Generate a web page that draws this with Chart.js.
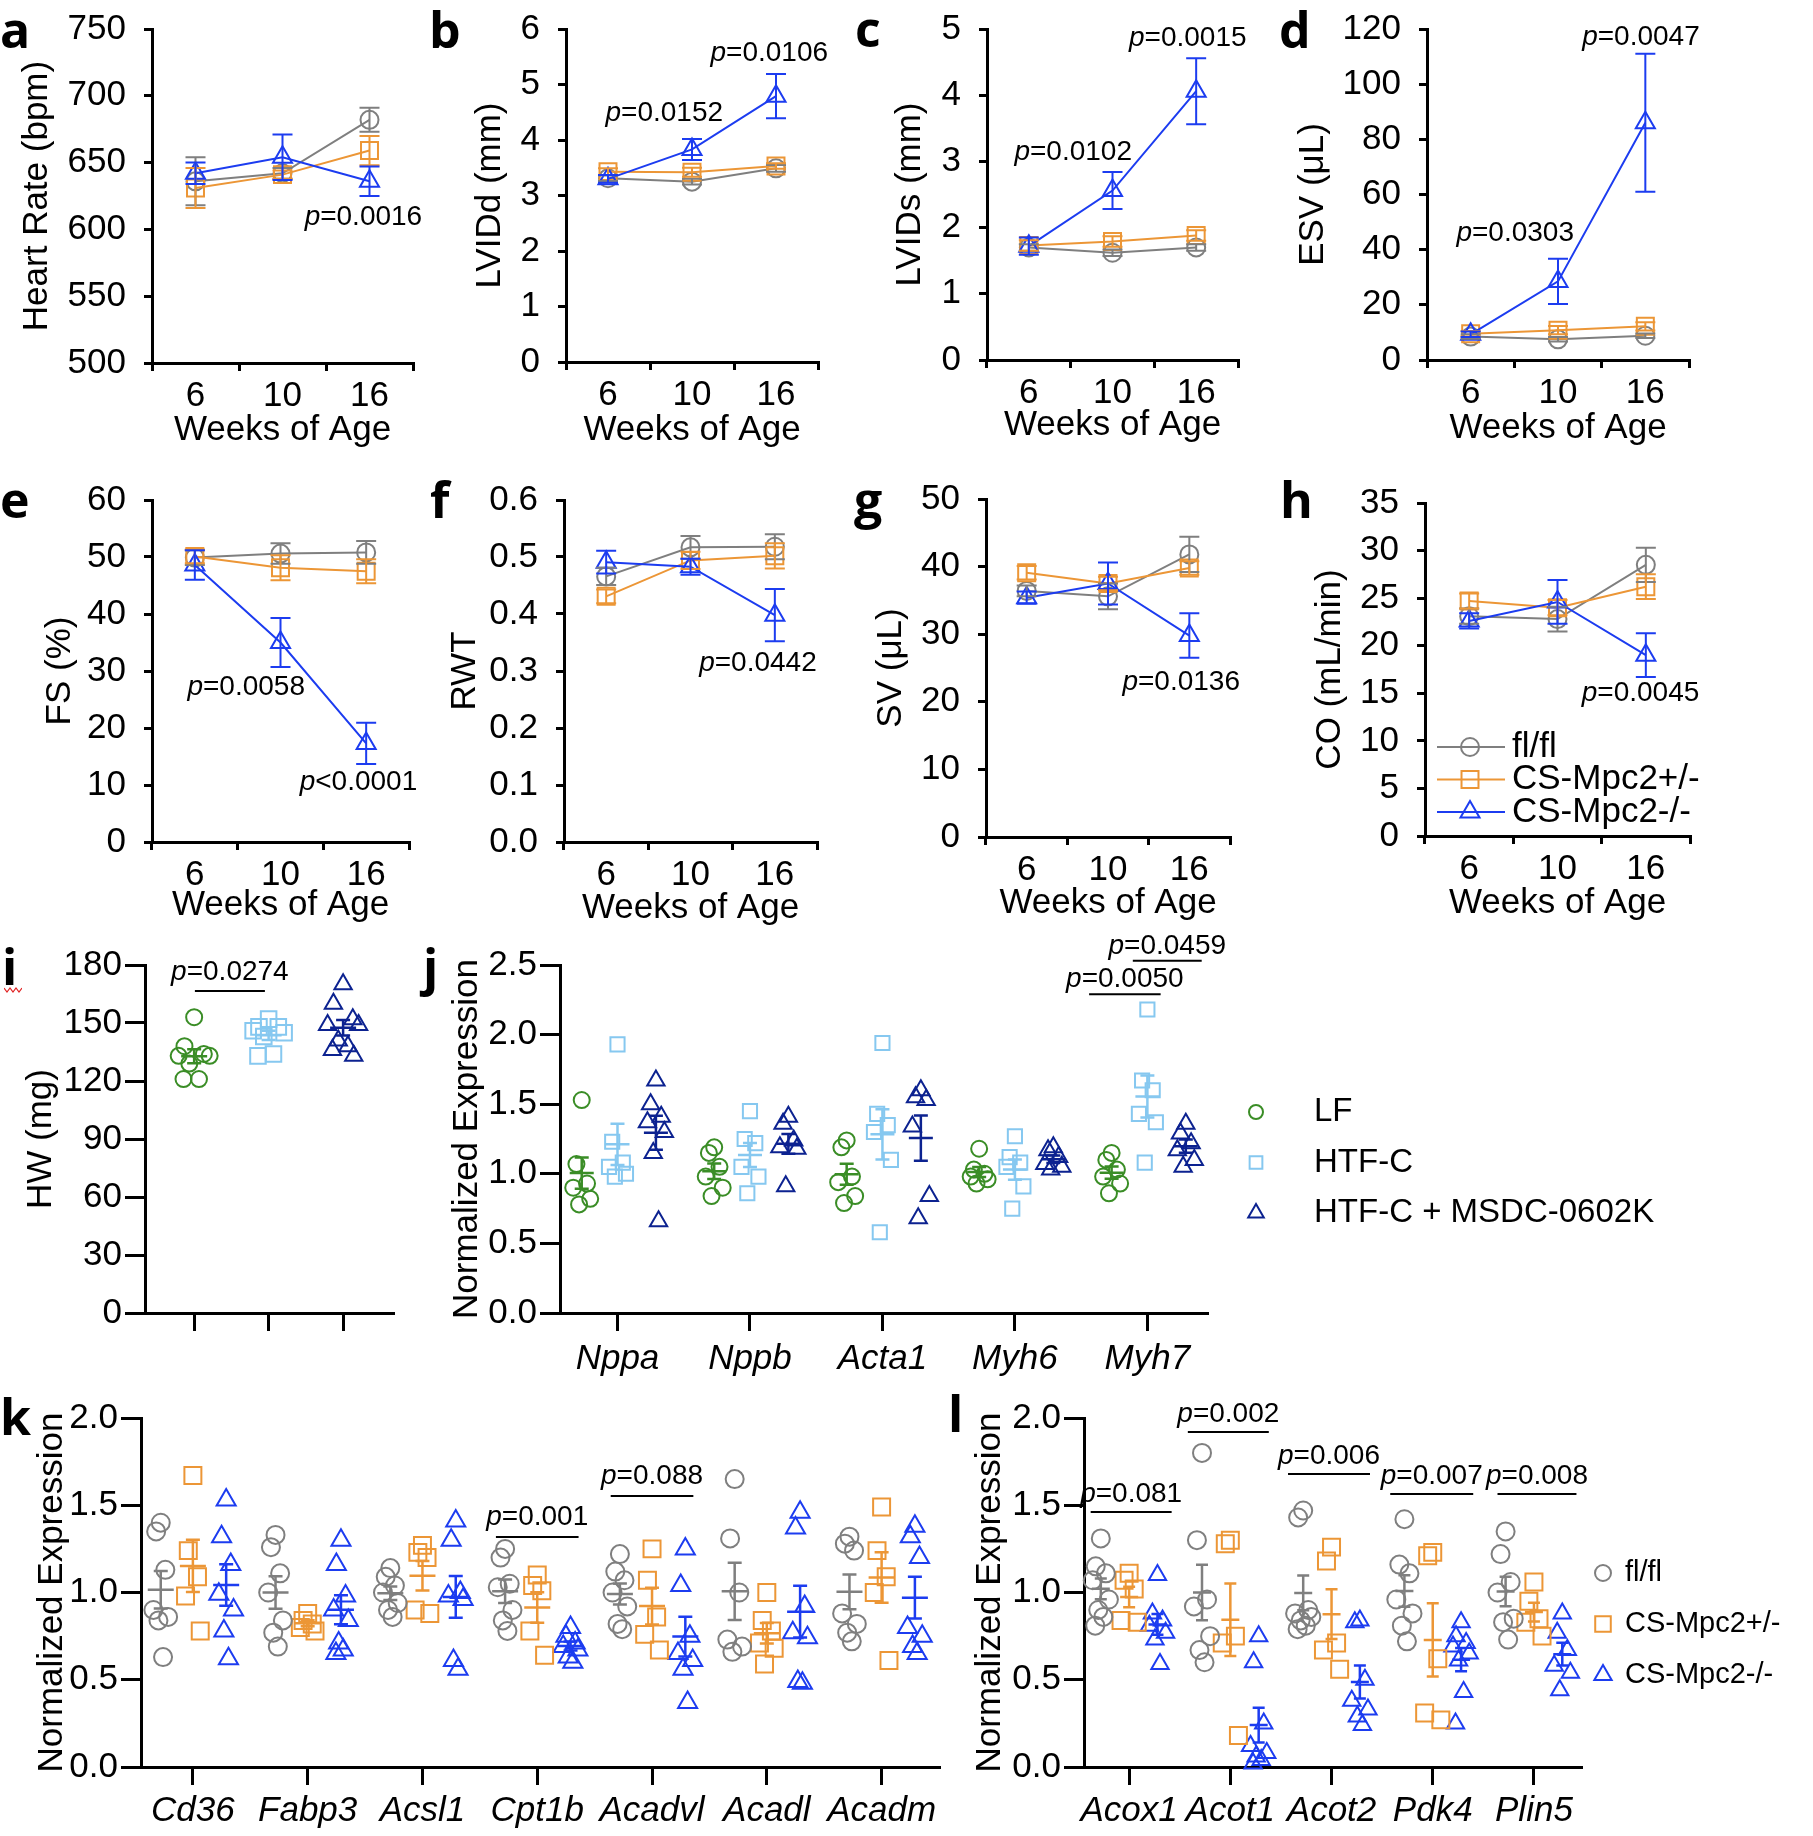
<!DOCTYPE html>
<html>
<head>
<meta charset="utf-8">
<title>Mpc2 echocardiography and gene expression</title>
<script src="https://cdn.jsdelivr.net/npm/chart.js@4.4.1/dist/chart.umd.min.js"></script>
<style>
  body { margin: 0; background: #fff; }
  #page { position: relative; width: 1813px; height: 1836px; overflow: hidden; background: #fff; }
  #page canvas { position: absolute; }
  .tag { position: absolute; font-family: "Open Sans", "DejaVu Sans", sans-serif; font-weight: 700; font-size: 50px; line-height: 50px; color: #000; }
</style>
</head>
<body>
<div id="page">
  <div class="tag" style="left:0px;top:4px">a</div>
  <div class="tag" style="left:429px;top:4px">b</div>
  <div class="tag" style="left:855px;top:3px">c</div>
  <div class="tag" style="left:1279px;top:4px">d</div>
  <div class="tag" style="left:0px;top:474px">e</div>
  <div class="tag" style="left:430px;top:474px">f</div>
  <div class="tag" style="left:854px;top:474px">g</div>
  <div class="tag" style="left:1280px;top:474px">h</div>
  <div class="tag" style="left:2px;top:941px">i</div>
  <svg style="position:absolute;left:4px;top:986px" width="18" height="8"><polyline points="0,2 3,6 6,2 9,6 12,2 15,6 18,2" fill="none" stroke="#e02020" stroke-width="1.2"/></svg>
  <div class="tag" style="left:423px;top:941px">j</div>
  <div class="tag" style="left:0px;top:1391px">k</div>
  <div class="tag" style="left:948px;top:1388px">l</div>
</div>
<script>
// ---------- data ----------
var weeks = ['6', '10', '16'];
var groupsMpc = ['fl/fl', 'CS-Mpc2+/-', 'CS-Mpc2-/-'];

// a  heart rate (bpm), mean and SEM
var hrFlfl = [636, 642, 682], hrFlflErr = [18, 4, 9];
var hrHet = [631, 641, 659], hrHetErr = [15, 3, 11];
var hrKo = [642, 654, 636], hrKoErr = [8, 17, 11];
var hrTicks = [500, 550, 600, 650, 700, 750];

// b  LVIDd (mm)
var lviddFlfl = [3.31, 3.25, 3.49], lviddFlflErr = [0.05, 0.05, 0.06];
var lviddHet = [3.43, 3.42, 3.53], lviddHetErr = [0.06, 0.08, 0.05];
var lviddKo = [3.30, 3.83, 4.79], lviddKoErr = [0.07, 0.19, 0.4];
var lviddTicks = [0, 1, 2, 3, 4, 5, 6];

// c  LVIDs (mm)
var lvidsFlfl = [1.70, 1.62, 1.70], lvidsFlflErr = [0.05, 0.05, 0.05];
var lvidsHet = [1.73, 1.79, 1.88], lvidsHetErr = [0.08, 0.08, 0.08];
var lvidsKo = [1.72, 2.56, 4.06], lvidsKoErr = [0.13, 0.28, 0.5];
var lvidsTicks = [0, 1, 2, 3, 4, 5];

// d  ESV (uL)
var esvFlfl = [8.5, 7.5, 8.8], esvFlflErr = [0.8, 0.8, 0.8];
var esvHet = [9.5, 10.8, 12.2], esvHetErr = [1, 1.5, 1.5];
var esvKo = [9.3, 28.5, 86], esvKoErr = [1, 8.2, 25];
var esvTicks = [0, 20, 40, 60, 80, 100, 120];

// e  FS (%)
var fsFlfl = [49.9, 50.6, 50.8], fsFlflErr = [1.3, 1.8, 2];
var fsHet = [50.1, 48.1, 47.5], fsHetErr = [1.2, 2.2, 2.1];
var fsKo = [48.6, 35, 17.3], fsKoErr = [2.6, 4.3, 3.6];
var fsTicks = [0, 10, 20, 30, 40, 50, 60];

// f  RWT
var rwtFlfl = [0.466, 0.517, 0.518], rwtFlflErr = [0.015, 0.02, 0.022];
var rwtHet = [0.431, 0.494, 0.502], rwtHetErr = [0.012, 0.015, 0.022];
var rwtKo = [0.491, 0.483, 0.398], rwtKoErr = [0.02, 0.014, 0.046];
var rwtTicks = [0, 0.1, 0.2, 0.3, 0.4, 0.5, 0.6];

// g  SV (uL)
var svFlfl = [36.4, 35.6, 41.8], svFlflErr = [0.8, 1.9, 2.6];
var svHet = [39.1, 37.5, 39.8], svHetErr = [1.0, 1.0, 1.0];
var svKo = [35.4, 37.5, 29.8], svKoErr = [0.9, 3.1, 3.3];
var svTicks = [0, 10, 20, 30, 40, 50];

// h  CO (mL/min)
var coFlfl = [23.1, 22.8, 28.5], coFlflErr = [0.8, 1.3, 1.8];
var coHet = [24.7, 24.0, 26.2], coHetErr = [0.8, 0.8, 1.3];
var coKo = [22.6, 24.6, 19.0], coKoErr = [0.8, 2.3, 2.3];
var coTicks = [0, 5, 10, 15, 20, 25, 30, 35];

// i  heart weight (mg)
var dietGroups = ['LF', 'HTF-C', 'HTF-C + MSDC-0602K'];
var hwLF = [153, 138, 134, 133, 133, 129, 121, 121];
var hwHTFC = [152, 148, 148, 146, 145, 143, 134, 133];
var hwMSDC = [170, 160, 152, 149, 149, 141, 138, 136, 133];
var hwTicks = [0, 30, 60, 90, 120, 150, 180];

// j  hypertrophy genes
var jGenes = ['Nppa', 'Nppb', 'Acta1', 'Myh6', 'Myh7'];
var jLF = [
  [1.53, 1.07, 0.93, 0.90, 0.82, 0.78],
  [1.19, 1.15, 1.05, 0.98, 0.90, 0.84],
  [1.24, 1.19, 0.98, 0.94, 0.84, 0.79],
  [1.18, 1.03, 1.00, 0.98, 0.96, 0.93],
  [1.15, 1.10, 1.03, 0.98, 0.93, 0.86]];
var jHTFC = [
  [1.93, 1.23, 1.08, 1.05, 1.00, 0.98],
  [1.45, 1.25, 1.22, 1.05, 0.98, 0.86],
  [1.94, 1.43, 1.35, 1.30, 1.10, 0.58],
  [1.27, 1.12, 1.08, 1.05, 0.91, 0.75],
  [2.18, 1.67, 1.60, 1.43, 1.37, 1.08]];
var jMSDC = [
  [1.67, 1.50, 1.41, 1.37, 1.30, 1.15, 0.66],
  [1.41, 1.36, 1.24, 1.19, 1.18, 0.91],
  [1.60, 1.55, 1.53, 1.34, 0.84, 0.68],
  [1.19, 1.17, 1.12, 1.07, 1.05, 1.03],
  [1.36, 1.29, 1.22, 1.17, 1.10, 1.05]];
var jTicks = [0, 0.5, 1, 1.5, 2, 2.5];

// k  fatty acid uptake / oxidation genes
var kGenes = ['Cd36', 'Fabp3', 'Acsl1', 'Cpt1b', 'Acadvl', 'Acadl', 'Acadm'];
var kFlfl = [
  [1.40, 1.35, 1.13, 0.90, 0.86, 0.84, 0.63],
  [1.33, 1.26, 1.11, 1.00, 0.84, 0.77, 0.69],
  [1.14, 1.09, 1.04, 1.00, 0.94, 0.90, 0.86],
  [1.25, 1.20, 1.05, 1.03, 0.90, 0.84, 0.78],
  [1.22, 1.12, 1.07, 1.00, 0.92, 0.82, 0.79],
  [1.65, 1.31, 1.00, 0.73, 0.69, 0.66],
  [1.32, 1.28, 1.24, 0.88, 0.82, 0.77, 0.72]];
var kHet = [
  [1.67, 1.24, 1.09, 0.98, 0.78],
  [0.88, 0.84, 0.82, 0.80, 0.78],
  [1.27, 1.23, 1.20, 0.90, 0.88],
  [1.10, 1.04, 1.01, 0.78, 0.64],
  [1.25, 1.07, 0.86, 0.76, 0.67],
  [1.00, 0.84, 0.78, 0.71, 0.68, 0.59],
  [1.49, 1.24, 1.09, 1.00, 0.61]];
var kKo = [
  [1.53, 1.32, 1.16, 0.99, 0.90, 0.78, 0.62],
  [1.30, 1.16, 0.98, 0.90, 0.84, 0.71, 0.67, 0.65],
  [1.41, 1.30, 1.00, 0.98, 0.96, 0.61, 0.56],
  [0.80, 0.75, 0.71, 0.69, 0.67, 0.63, 0.60],
  [1.25, 1.04, 0.75, 0.65, 0.61, 0.56, 0.37],
  [1.46, 1.37, 0.92, 0.77, 0.74, 0.49, 0.48],
  [1.38, 1.32, 1.20, 0.80, 0.75, 0.69, 0.65]];
var exprTicks = [0, 0.5, 1, 1.5, 2];

// l  PPARa targets
var lGenes = ['Acox1', 'Acot1', 'Acot2', 'Pdk4', 'Plin5'];
var lFlfl = [
  [1.31, 1.15, 1.11, 1.07, 0.96, 0.90, 0.86, 0.81],
  [1.80, 1.30, 0.96, 0.92, 0.75, 0.67, 0.60],
  [1.47, 1.43, 0.90, 0.88, 0.86, 0.84, 0.81, 0.79],
  [1.42, 1.16, 1.11, 0.96, 0.88, 0.81, 0.72],
  [1.35, 1.22, 1.06, 1.00, 0.85, 0.83, 0.73]];
var lHet = [
  [1.11, 1.07, 1.02, 0.84, 0.83],
  [1.30, 1.28, 0.75, 0.71, 0.18],
  [1.26, 1.18, 0.71, 0.67, 0.56],
  [1.23, 1.21, 0.62, 0.31, 0.27],
  [1.06, 0.95, 0.85, 0.83, 0.75]];
var lKo = [
  [1.10, 0.88, 0.84, 0.81, 0.77, 0.73, 0.59],
  [0.75, 0.60, 0.25, 0.12, 0.08, 0.06, 0.04, 0.02],
  [0.84, 0.83, 0.50, 0.38, 0.33, 0.29, 0.24],
  [0.83, 0.75, 0.71, 0.69, 0.65, 0.61, 0.43, 0.25],
  [0.88, 0.77, 0.67, 0.58, 0.54, 0.44]];

// ---------- look ----------
var FAM = '"Liberation Sans", Arial, Helvetica, sans-serif';
var FS = 35, LH = FS * 1.2;
var GREY = '#7f7f7f', ORANGE = '#ec9636', BLUE = '#1c3cf0';
var GREEN = '#3a8d26', SKY = '#86c8f0', NAVY = '#0c2290';
var swarm = [0, -1, 1, -1.6, 1.6, -0.5, 0.5, -1.1, 1.1];

Chart.defaults.font.family = FAM;
Chart.defaults.color = '#000';
Chart.defaults.animation = false;
Chart.defaults.responsive = false;
Chart.defaults.events = [];
Chart.defaults.plugins.legend.display = false;
Chart.defaults.plugins.tooltip.enabled = false;

function addCanvas(left, top, width, height) {
  var c = document.createElement('canvas');
  c.width = Math.round(width);
  c.height = Math.round(height);
  c.style.left = left + 'px';
  c.style.top = top + 'px';
  document.getElementById('page').appendChild(c);
  return c;
}

function drawP(ctx, text, cx, cy, size) {
  ctx.save();
  ctx.textBaseline = 'middle';
  ctx.textAlign = 'left';
  ctx.fillStyle = '#000';
  ctx.font = 'italic ' + size + 'px ' + FAM;
  var w1 = ctx.measureText(text[0]).width;
  ctx.font = size + 'px ' + FAM;
  var w2 = ctx.measureText(text.slice(1)).width;
  var x0 = cx - (w1 + w2) / 2;
  ctx.font = 'italic ' + size + 'px ' + FAM;
  ctx.fillText(text[0], x0, cy);
  ctx.font = size + 'px ' + FAM;
  ctx.fillText(text.slice(1), x0 + w1, cy);
  ctx.restore();
}

// p-values: either placed at (x, y) or over a bracket from x1 to x2 at y
function notesPlugin(items, dy) {
  return {
    id: 'pnotes',
    afterDraw: function (chart) {
      var xs = chart.scales.x, ys = chart.scales.y, ctx = chart.ctx;
      items.forEach(function (n) {
        if (n.x2 !== undefined) {
          var x1 = xs.getPixelForValue(n.x1), x2 = xs.getPixelForValue(n.x2), y = ys.getPixelForValue(n.y);
          ctx.save();
          ctx.strokeStyle = '#000';
          ctx.lineWidth = 2;
          ctx.beginPath();
          ctx.moveTo(x1, y);
          ctx.lineTo(x2, y);
          ctx.stroke();
          ctx.restore();
          drawP(ctx, n.t, (x1 + x2) / 2, y - dy, 28);
        } else {
          drawP(ctx, n.t, xs.getPixelForValue(n.x), ys.getPixelForValue(n.y), 28);
        }
      });
    }
  };
}

var errorBars = {
  id: 'errorBars',
  afterDatasetsDraw: function (chart) {
    var ctx = chart.ctx, ys = chart.scales.y;
    chart.data.datasets.forEach(function (ds, i) {
      var meta = chart.getDatasetMeta(i);
      ctx.save();
      ctx.strokeStyle = ds.borderColor;
      ctx.lineWidth = 2;
      meta.data.forEach(function (pt, j) {
        var y1 = ys.getPixelForValue(ds.data[j] + ds.errs[j]);
        var y2 = ys.getPixelForValue(ds.data[j] - ds.errs[j]);
        ctx.beginPath();
        ctx.moveTo(pt.x, y1); ctx.lineTo(pt.x, y2);
        ctx.moveTo(pt.x - 10, y1); ctx.lineTo(pt.x + 10, y1);
        ctx.moveTo(pt.x - 10, y2); ctx.lineTo(pt.x + 10, y2);
        ctx.stroke();
      });
      ctx.restore();
    });
  }
};

function meanSem(half, cap) {
  return {
    id: 'meanSem',
    afterDatasetsDraw: function (chart) {
      var xs = chart.scales.x, ys = chart.scales.y, ctx = chart.ctx;
      chart.data.datasets.forEach(function (ds) {
        ctx.save();
        ctx.strokeStyle = ds.borderColor;
        ctx.lineWidth = 2.5;
        ds.cols.forEach(function (col) {
          var n = col.vals.length;
          var m = col.vals.reduce(function (a, b) { return a + b; }, 0) / n;
          var sd = Math.sqrt(col.vals.reduce(function (a, b) { return a + (b - m) * (b - m); }, 0) / (n - 1));
          var se = sd / Math.sqrt(n);
          var x = xs.getPixelForValue(col.x), ym = ys.getPixelForValue(m);
          var y1 = ys.getPixelForValue(m + se), y2 = ys.getPixelForValue(m - se);
          ctx.beginPath();
          ctx.moveTo(x - half, ym); ctx.lineTo(x + half, ym);
          ctx.moveTo(x, y1); ctx.lineTo(x, y2);
          ctx.moveTo(x - cap, y1); ctx.lineTo(x + cap, y1);
          ctx.moveTo(x - cap, y2); ctx.lineTo(x + cap, y2);
          ctx.stroke();
        });
        ctx.restore();
      });
    }
  };
}

function legendPlugin(items, o) {
  return {
    id: 'sideLegend',
    afterDraw: function (chart) {
      var ctx = chart.ctx, ca = chart.chartArea;
      var bx = (o.fromRight ? ca.right : ca.left) + o.dx;
      items.forEach(function (it, i) {
        var y = (o.fromBottom ? ca.bottom : ca.top) + o.dy + i * o.gap;
        ctx.save();
        ctx.strokeStyle = it.color;
        ctx.fillStyle = 'rgba(0,0,0,0)';
        ctx.lineWidth = 2;
        if (o.line) {
          ctx.beginPath();
          ctx.moveTo(bx, y); ctx.lineTo(bx + o.len, y);
          ctx.stroke();
        }
        Chart.helpers.drawPoint(ctx, { pointStyle: it.style, radius: it.r, rotation: 0, borderWidth: 2 }, bx + o.mx, y);
        ctx.fillStyle = '#000';
        ctx.font = o.size + 'px ' + FAM;
        ctx.textBaseline = 'middle';
        ctx.textAlign = 'left';
        ctx.fillText(it.label, bx + o.tx, y);
        ctx.restore();
      });
    }
  };
}

function yAxis(g, wy) {
  return {
    min: g.ticks[0], max: g.ticks[g.ticks.length - 1],
    afterBuildTicks: function (s) { s.ticks = g.ticks.map(function (v) { return { value: v }; }); },
    ticks: { font: { size: FS }, padding: g.yPad, callback: function (v) { return g.dec ? v.toFixed(g.dec) : String(v); } },
    grid: { drawOnChartArea: false, color: '#000', lineWidth: 3, tickLength: g.yTick },
    border: { color: '#000', width: 3 },
    title: { display: true, text: g.title, font: { size: FS }, padding: 0 },
    afterFit: function (s) { s.width = wy; }
  };
}

function series(label, vals, errs, color, style, r, order) {
  return {
    label: label, data: vals, errs: errs, borderColor: color, backgroundColor: 'rgba(0,0,0,0)',
    borderWidth: 2, pointStyle: style, pointRadius: r, pointBorderWidth: 2,
    pointBackgroundColor: 'rgba(0,0,0,0)', tension: 0, clip: false, order: order
  };
}

function linePanel(g, sets, notes, extra) {
  var padTop = 45, padRight = 40;
  var left = Math.round(g.titleX - LH / 2);
  var top = g.top - padTop;
  var wy = g.axisX - left;
  var hx = Math.round(g.xTitleY + LH / 2 - g.bottom);
  g.yPad = 18; g.yTick = 8;
  var canvas = addCanvas(left, top, g.right - left + padRight, g.bottom - top + hx);
  var plugins = [errorBars, notesPlugin(notes, 0)];
  if (extra) plugins.push(extra);
  return new Chart(canvas, {
    type: 'line',
    data: { labels: weeks, datasets: sets },
    options: {
      layout: { padding: { top: padTop, right: padRight, left: 0, bottom: 0 } },
      scales: {
        x: {
          offset: true,
          grid: { offset: true, drawOnChartArea: false, color: '#000', lineWidth: 3, tickLength: 8 },
          border: { color: '#000', width: 3 },
          ticks: { font: { size: FS }, padding: 4, maxRotation: 0 },
          title: { display: true, text: 'Weeks of Age', font: { size: FS }, padding: 0 },
          afterFit: function (s) { s.height = hx; }
        },
        y: yAxis(g, wy)
      }
    },
    plugins: plugins
  });
}

function mpcSets(fl, flE, het, hetE, ko, koE) {
  return [
    series(groupsMpc[0], fl, flE, GREY, 'circle', 9, 3),
    series(groupsMpc[1], het, hetE, ORANGE, 'rect', 12, 2),
    series(groupsMpc[2], ko, koE, BLUE, 'triangle', 11, 1)
  ];
}

function dotPanel(g, groups, notes, noteDy, extra) {
  var left = Math.round(g.titleX - LH / 2);
  var top = g.top - g.padTop;
  var wy = g.axisX - left;
  g.yPad = 3; g.yTick = 20;
  var canvas = addCanvas(left, top, g.right - left + g.padRight, g.bottom - top + g.xAxisH);
  var datasets = groups.map(function (gr) {
    var pts = [];
    gr.cols.forEach(function (col) {
      col.vals.forEach(function (v, k) {
        pts.push({ x: col.x + swarm[k % swarm.length] * g.spread, y: v });
      });
    });
    return {
      label: gr.label, data: pts, cols: gr.cols, borderColor: gr.color, backgroundColor: 'rgba(0,0,0,0)',
      pointStyle: gr.style, pointRadius: gr.r, pointBorderWidth: 2, clip: false
    };
  });
  var plugins = [meanSem(g.half, g.cap), notesPlugin(notes, noteDy)];
  if (extra) plugins.push(extra);
  return new Chart(canvas, {
    type: 'scatter',
    data: { datasets: datasets },
    options: {
      layout: { padding: { top: g.padTop, right: g.padRight, left: 0, bottom: 0 } },
      scales: {
        x: {
          type: 'linear', min: g.xMin, max: g.xMax,
          afterBuildTicks: function (s) { s.ticks = g.cats.map(function (c, i) { return { value: i + 1 }; }); },
          ticks: {
            autoSkip: false, maxRotation: 0, padding: g.xPad, font: { size: FS, style: 'italic' },
            callback: function (v) { return g.labels ? g.labels[v - 1] : ''; }
          },
          grid: { drawOnChartArea: false, color: '#000', lineWidth: 3, tickLength: 18 },
          border: { color: '#000', width: 3 },
          afterFit: function (s) { s.height = g.xAxisH; }
        },
        y: yAxis(g, wy)
      }
    },
    plugins: plugins
  });
}

function geneCols(table, shift) {
  return table.map(function (vals, i) { return { x: i + 1 + shift, vals: vals }; });
}

// ---------- row 1 ----------
linePanel({ axisX: 152, top: 29, bottom: 363, right: 413, titleX: 37, xTitleY: 430, ticks: hrTicks, title: 'Heart Rate (bpm)' },
  mpcSets(hrFlfl, hrFlflErr, hrHet, hrHetErr, hrKo, hrKoErr),
  [{ x: 1.93, y: 609, t: 'p=0.0016' }]);

linePanel({ axisX: 566, top: 29, bottom: 362, right: 818, titleX: 490, xTitleY: 430, ticks: lviddTicks, title: 'LVIDd (mm)' },
  mpcSets(lviddFlfl, lviddFlflErr, lviddHet, lviddHetErr, lviddKo, lviddKoErr),
  [{ x: 0.67, y: 4.49, t: 'p=0.0152' }, { x: 1.92, y: 5.57, t: 'p=0.0106' }]);

linePanel({ axisX: 987, top: 29, bottom: 360, right: 1238, titleX: 910, xTitleY: 425, ticks: lvidsTicks, title: 'LVIDs (mm)' },
  mpcSets(lvidsFlfl, lvidsFlflErr, lvidsHet, lvidsHetErr, lvidsKo, lvidsKoErr),
  [{ x: 0.53, y: 3.14, t: 'p=0.0102' }, { x: 1.90, y: 4.86, t: 'p=0.0015' }]);

linePanel({ axisX: 1427, top: 29, bottom: 360, right: 1689, titleX: 1313, xTitleY: 428, ticks: esvTicks, title: 'ESV (\u03bcL)' },
  mpcSets(esvFlfl, esvFlflErr, esvHet, esvHetErr, esvKo, esvKoErr),
  [{ x: 0.51, y: 46, t: 'p=0.0303' }, { x: 1.95, y: 117, t: 'p=0.0047' }]);

// ---------- row 2 ----------
linePanel({ axisX: 152, top: 500, bottom: 842, right: 409, titleX: 60, xTitleY: 905, ticks: fsTicks, title: 'FS (%)' },
  mpcSets(fsFlfl, fsFlflErr, fsHet, fsHetErr, fsKo, fsKoErr),
  [{ x: 0.60, y: 27.2, t: 'p=0.0058' }, { x: 1.91, y: 10.5, t: 'p<0.0001' }]);

linePanel({ axisX: 564, top: 500, bottom: 842, right: 817, titleX: 465, xTitleY: 908, ticks: rwtTicks, dec: 1, title: 'RWT' },
  mpcSets(rwtFlfl, rwtFlflErr, rwtHet, rwtHetErr, rwtKo, rwtKoErr),
  [{ x: 1.80, y: 0.314, t: 'p=0.0442' }]);

linePanel({ axisX: 986, top: 499, bottom: 837, right: 1230, titleX: 891, xTitleY: 903, ticks: svTicks, title: 'SV (\u03bcL)' },
  mpcSets(svFlfl, svFlflErr, svHet, svHetErr, svKo, svKoErr),
  [{ x: 1.90, y: 22.9, t: 'p=0.0136' }]);

linePanel({ axisX: 1425, top: 503, bottom: 836, right: 1690, titleX: 1330, xTitleY: 903, ticks: coTicks, title: 'CO (mL/min)' },
  mpcSets(coFlfl, coFlflErr, coHet, coHetErr, coKo, coKoErr),
  [{ x: 1.94, y: 15.0, t: 'p=0.0045' }],
  legendPlugin([
    { label: groupsMpc[0], color: GREY, style: 'circle', r: 9 },
    { label: groupsMpc[1], color: ORANGE, style: 'rect', r: 12 },
    { label: groupsMpc[2], color: BLUE, style: 'triangle', r: 11 }
  ], { fromBottom: true, dx: 12, dy: -89, gap: 32.5, line: true, len: 68, mx: 33, tx: 75, size: FS }));

// ---------- row 3 ----------
dotPanel({ axisX: 145, top: 965, bottom: 1313, right: 393, titleX: 41, padTop: 40, padRight: 20, xAxisH: 30,
    ticks: hwTicks, title: 'HW (mg)', xMin: 0.34, xMax: 3.67, cats: dietGroups, labels: null, xPad: 3,
    spread: 0.13, half: 13, cap: 7 },
  [
    { label: dietGroups[0], cols: [{ x: 1, vals: hwLF }], color: GREEN, style: 'circle', r: 8 },
    { label: dietGroups[1], cols: [{ x: 2, vals: hwHTFC }], color: SKY, style: 'rect', r: 11 },
    { label: dietGroups[2], cols: [{ x: 3, vals: hwMSDC }], color: NAVY, style: 'triangle', r: 10 }
  ],
  [{ x1: 1.01, x2: 1.95, y: 166.6, t: 'p=0.0274' }], 19);

dotPanel({ axisX: 560, top: 965, bottom: 1313, right: 1207, titleX: 467, padTop: 60, padRight: 470, xAxisH: 90,
    ticks: jTicks, dec: 1, title: 'Normalized Expression', xMin: 0.566, xMax: 5.45, cats: jGenes, labels: jGenes, xPad: 7,
    spread: 0.04, half: 12, cap: 7 },
  [
    { label: dietGroups[0], cols: geneCols(jLF, -0.27), color: GREEN, style: 'circle', r: 8 },
    { label: dietGroups[1], cols: geneCols(jHTFC, 0), color: SKY, style: 'rect', r: 10 },
    { label: dietGroups[2], cols: geneCols(jMSDC, 0.29), color: NAVY, style: 'triangle', r: 10 }
  ],
  [{ x1: 4.56, x2: 5.10, y: 2.29, t: 'p=0.0050' }, { x1: 4.89, x2: 5.41, y: 2.53, t: 'p=0.0459' }], 15,
  legendPlugin([
    { label: dietGroups[0], color: GREEN, style: 'circle', r: 7 },
    { label: dietGroups[1], color: SKY, style: 'rect', r: 9 },
    { label: dietGroups[2], color: NAVY, style: 'triangle', r: 9 }
  ], { fromRight: true, dx: 49, dy: 147, gap: 50.5, line: false, mx: 0, tx: 58, size: 33 }));

// ---------- row 4 ----------
dotPanel({ axisX: 141, top: 1418, bottom: 1767, right: 939, titleX: 52, padTop: 40, padRight: 20, xAxisH: 69,
    ticks: exprTicks, dec: 1, title: 'Normalized Expression', xMin: 0.548, xMax: 7.5, cats: kGenes, labels: kGenes, xPad: 5,
    spread: 0.04, half: 13, cap: 7 },
  [
    { label: groupsMpc[0], cols: geneCols(kFlfl, -0.28), color: GREY, style: 'circle', r: 9 },
    { label: groupsMpc[1], cols: geneCols(kHet, 0), color: ORANGE, style: 'rect', r: 12 },
    { label: groupsMpc[2], cols: geneCols(kKo, 0.29), color: BLUE, style: 'triangle', r: 11 }
  ],
  [{ x1: 3.64, x2: 4.36, y: 1.318, t: 'p=0.001' }, { x1: 4.64, x2: 5.36, y: 1.553, t: 'p=0.088' }], 20);

dotPanel({ axisX: 1084, top: 1418, bottom: 1767, right: 1581, titleX: 990, padTop: 50, padRight: 232, xAxisH: 69,
    ticks: exprTicks, dec: 1, title: 'Normalized Expression', xMin: 0.554, xMax: 5.465, cats: lGenes, labels: lGenes, xPad: 5,
    spread: 0.05, half: 9, cap: 6 },
  [
    { label: groupsMpc[0], cols: geneCols(lFlfl, -0.28), color: GREY, style: 'circle', r: 9 },
    { label: groupsMpc[1], cols: geneCols(lHet, 0), color: ORANGE, style: 'rect', r: 12 },
    { label: groupsMpc[2], cols: geneCols(lKo, 0.28), color: BLUE, style: 'triangle', r: 10 }
  ],
  [{ x1: 0.62, x2: 1.42, y: 1.461, t: 'p=0.081' }, { x1: 1.58, x2: 2.38, y: 1.92, t: 'p=0.002' },
   { x1: 2.57, x2: 3.38, y: 1.679, t: 'p=0.006' }, { x1: 3.58, x2: 4.40, y: 1.564, t: 'p=0.007' },
   { x1: 4.64, x2: 5.42, y: 1.564, t: 'p=0.008' }], 18,
  legendPlugin([
    { label: groupsMpc[0], color: GREY, style: 'circle', r: 8 },
    { label: groupsMpc[1], color: ORANGE, style: 'rect', r: 11 },
    { label: groupsMpc[2], color: BLUE, style: 'triangle', r: 10 }
  ], { fromRight: true, dx: 22, dy: 155, gap: 51, line: false, mx: 0, tx: 22, size: 29 }));
</script>
</body>
</html>
